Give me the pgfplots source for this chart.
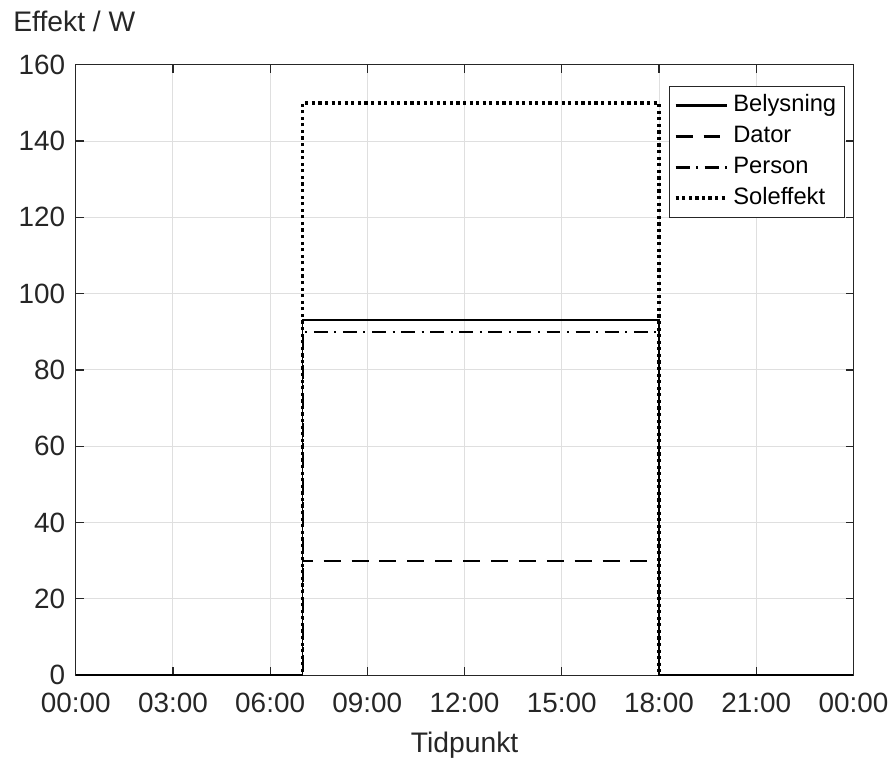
\documentclass[border=0pt]{standalone}
\usepackage{fontspec}
\setmainfont{Liberation Sans}
\usepackage{pgfplots}
\pgfplotsset{compat=1.18}
\definecolor{axc}{HTML}{262626}
\definecolor{gridc}{HTML}{DFDFDF}
\begin{document}
\begin{tikzpicture}
\begin{axis}[
  scale only axis, width=390.5pt, height=306.5pt,
  xmin=0, xmax=24, ymin=0, ymax=160,
  xtick={0,3,...,24},
  xticklabels={00:00,03:00,06:00,09:00,12:00,15:00,18:00,21:00,00:00},
  ytick={0,20,...,160},
  grid=major, major grid style={color=gridc, line width=0.5pt},
  axis line style={color=axc, line width=0.6pt},
  tick align=inside, major tick length=4pt,
  tick style={color=axc, line width=0.6pt},
  ticklabel style={font=\fontsize{14}{16}\selectfont, text=axc},
  /pgf/number format/assume math mode=true,
  xticklabel style={yshift=-5.3pt},
  yticklabel style={xshift=-1.8pt},
  xlabel={Tidpunkt},
  xlabel style={at={(axis description cs:0.5,0)}, anchor=base, yshift=-39pt,
    font=\fontsize{14.2}{16}\selectfont, text=axc},
  legend style={at={(axis description cs:1,1)}, anchor=north east,
    xshift=-4.5pt, yshift=-10.5pt, draw=axc,
    font=\fontsize{11.9}{14}\selectfont, text=black,
    inner xsep=2pt, inner ysep=2pt, row sep=0pt,
    nodes={text height=8.9pt, text depth=2.6pt, inner sep=2pt},
    cells={anchor=west}},
  legend image code/.code={\draw[#1] (0pt,0pt) -- (26pt,0pt);},
]
\addplot[black, line width=0.9pt, legend image post style={line width=1.2pt}] coordinates {(0,0) (7,0) (7,93) (18,93) (18,0) (24,0)};
\addlegendentry{Belysning}
\addplot[black, line width=0.9pt, dash pattern=on 8.5pt off 5.5pt, legend image post style={line width=1.2pt}] coordinates {(0,0) (7,0) (7,30) (18,30) (18,0) (24,0)};
\addlegendentry{Dator}
\addplot[black, line width=1pt, dash pattern=on 7pt off 3.3pt on 1pt off 3.3pt, legend image post style={line width=1.4pt}] coordinates {(0,0) (7,0) (7,90) (18,90) (18,0) (24,0)};
\addlegendentry{Person}
\addplot[black, line width=1.7pt, dash pattern=on 1.6pt off 1.7pt, legend image post style={line width=2pt}] coordinates {(0,0) (7,0) (7,150) (18,150) (18,0) (24,0)};
\addlegendentry{Soleffekt}
\end{axis}
\node[anchor=base west, inner sep=0pt, font=\fontsize{14.2}{16}\selectfont, text=axc]
  at ([xshift=-31.5pt, yshift=16.5pt]current axis.north west) {Effekt / W};
\path ([xshift=-38pt, yshift=-43.5pt]current axis.south west) rectangle ([xshift=19pt, yshift=32.5pt]current axis.north east);
\end{tikzpicture}
\end{document}
